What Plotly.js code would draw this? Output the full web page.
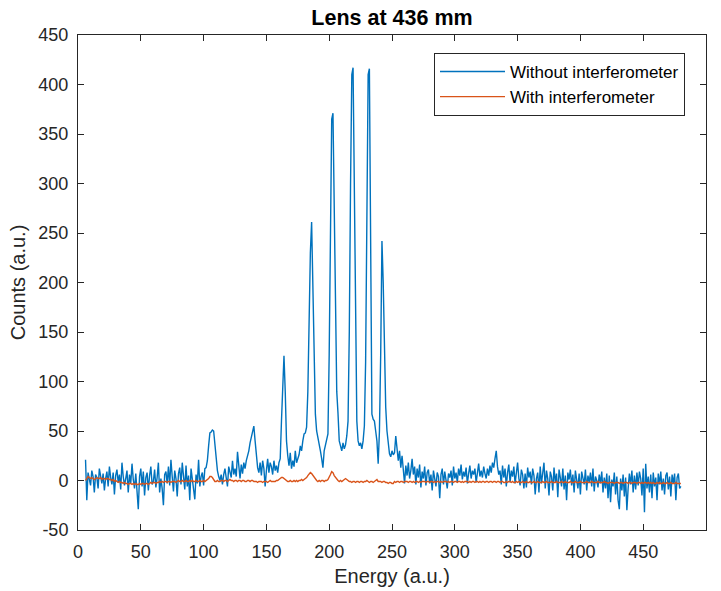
<!DOCTYPE html>
<html>
<head>
<meta charset="utf-8">
<script src="https://cdn.plot.ly/plotly-3.0.1.min.js"></script>
<style>html,body{margin:0;padding:0;background:#fff;}#chart{width:721px;height:591px;}</style>
</head>
<body>
<div id="chart"></div>
<script>
// Energy channels start at 6 (one value per channel)
const energyStart = 6;

// Counts without interferometer (blue)
const withoutInterferometer = [
  21, -20, 8, 2, -5, 10, 4, -12, 6, 3,
  -8, 12, 5, -3, 7, -10, 2, 9, -6, 14,
  3, -4, 8, -14, 5, 11, -2, 6, -9, 18,
  4, -5, 2, 10, -12, 6, -3, 17, 1, -8,
  7, -18, -29, 4, 12, -6, 9, -15, 3, 8,
  -10, 5, 14, -4, -1, 11, -7, 3, 18, -12,
  2, -8, -25, 6, 9, -3, 14, -5, 21, 4,
  -11, 10, 2, -16, 7, 13, -4, 18, 1, -9,
  15, -6, 5, -20, 12, 3, -8, -19, 6, -3,
  21, -6, 4, 8, -5, 12, 13, 20, 35, 48,
  49, 51, 50, 38, 20, 10, 4, 0, 6, -4,
  6, 12, 3, -6, 14, 8, 3, 20, 6, 12,
  4, 29, 10, 2, 16, 7, 18, 12, 20, 24,
  30, 38, 45, 52, 55, 40, 22, 13, 8, 18,
  5, 20, 12, -6, 10, 22, 8, 18, 14, 6,
  20, 10, 15, 8, 18, 22, 60, 105, 126, 90,
  40, 25, 15, 28, 12, 20, 14, 30, 18, 22,
  26, 35, 30, 40, 47, 48, 54, 90, 170, 230,
  261, 200, 120, 67, 50, 44, 36, 30, 22, 13,
  30, 36, 42, 47, 128, 250, 365, 371, 280, 150,
  90, 68, 40, 35, 30, 38, 32, 36, 45, 60,
  150, 300, 410, 417, 300, 140, 60, 40, 35, 38,
  32, 40, 55, 120, 300, 410, 416, 200, 67, 62,
  60, 50, 40, 17, 50, 128, 242, 200, 128, 74,
  50, 35, 27, 24, 30, 26, 28, 45, 33, 20,
  30, 13, 25, 8, -3, 15, 5, 18, 2, 10,
  22, 6, 14, -4, 12, 3, 16, -7, 9, 2,
  14, -5, 8, 11, -3, 6, -10, 10, 2, -6,
  8, 4, -18, 6, 12, -4, 9, 0, -8, 7,
  3, 10, -5, 14, 2, 8, -2, 12, 5, 16,
  1, 9, 4, 13, -3, 7, 15, 2, 10, 6,
  12, -2, 8, 17, 4, 10, 3, 14, 7, 2,
  12, 5, 15, 8, 18, 13, 22, 30, 14, 6,
  10, -4, 15, 3, 12, -6, 8, 16, -2, 10,
  4, 14, -3, 9, 18, 2, -5, 11, 6, -8,
  7, -7, 13, 3, 9, -4, 12, 5, -14, 2,
  8, -12, 14, -3, 6, 18, -8, 10, 2, -15,
  9, 4, -10, 13, -2, 7, -17, 11, 3, -6,
  12, -9, 5, -20, 8, 1, 11, -5, 6, -12,
  10, 3, -8, 7, -14, 9, 2, -4, 11, -10,
  5, -2, 8, -6, 12, -11, 4, 0, -7, 6,
  -3, 9, -12, 3, -8, 7, -18, 5, -22, 1,
  -6, 8, -14, 4, -20, -29, 2, -10, 6, -16,
  3, -30, -8, 7, -4, 10, -12, 5, -9, 8,
  -5, 9, 2, -15, 12, -32, 17, -8, 4, -12,
  6, -18, 8, -6, 3, -20, 7, -4, 9, -10,
  2, -14, 5, 8, -9, 4, -16, 6, -3, 7,
  -20, 3, 7, -8, -6
];

// Counts with interferometer (orange)
const withInterferometer = [
  0, 2, 4, 3, 2, 3, 2, 1, 2, 3,
  2, 2, 3, 1, 2, 2, 1, 2, 2, 1,
  1, 0, 1, -1, 0, -1, -2, -1, -2, -2,
  -3, -2, -3, -3, -4, -3, -3, -4, -3, -4,
  -3, -4, -4, -3, -4, -3, -3, -4, -3, -3,
  -4, -3, -2, -3, -2, -2, -3, -2, -2, -1,
  -2, -1, -2, -1, -1, -2, -1, -1, -2, -1,
  -1, -1, -2, -1, 0, -1, -1, 0, -1, -1,
  0, -1, -1, 0, -1, 0, -1, -1, 0, -1,
  -1, 0, -1, -1, 0, -1, 0, 1, 2, 4,
  4, 3, 1, -1, -1, 0, -1, -1, 0, 0,
  -1, 0, 0, -1, 0, 1, 0, 0, -1, 0,
  0, -1, 0, 0, -1, 0, 0, -1, -1, 0,
  0, -1, 0, 0, -1, -1, -1, -2, -1, -1,
  -1, -2, -1, -1, -1, -2, -1, 0, -1, -1,
  -1, -1, 0, 0, 1, 2, 3, 3, 2, 1,
  0, -1, -1, 0, -1, -1, 0, -1, 0, -1,
  0, 0, 1, 0, 1, 2, 3, 5, 7, 8,
  7, 5, 3, 1, 0, -1, 0, -1, 0, 0,
  -1, 0, 0, 1, 3, 6, 9, 8, 5, 3,
  1, 0, -1, 0, -1, 0, 1, 2, 1, 0,
  -1, -1, -2, -1, -1, -2, -1, -1, -2, -1,
  -1, -2, -1, -1, 0, -1, -2, -1, -1, -2,
  -1, 0, 1, -1, -1, -1, -2, -1, -1, -2,
  -2, -3, -2, -2, -3, -3, -1, -2, -1, -1,
  -2, -1, -1, -2, -1, -1, -1, -2, -1, -1,
  -2, -1, -2, -1, -1, -2, -1, -2, -1, -1,
  -1, -2, -1, -1, -2, -1, -1, -2, -1, -2,
  -1, -1, -2, -1, -2, -1, -1, -1, -2, -1,
  -2, -1, -1, -2, -1, -1, -2, -1, -1, -2,
  -1, -2, -1, -1, -1, -2, -1, -2, -1, -1,
  -2, -1, -1, -2, -1, -2, -1, -1, -2, -1,
  -1, -2, -1, -1, -2, -1, -1, -2, -1, -1,
  -2, -1, -1, -2, -2, -1, -2, -1, -1, -2,
  -1, -2, -2, -1, -2, -1, -2, -2, -1, -2,
  -2, -1, -2, -2, -1, -2, -2, -1, -2, -2,
  -1, -2, -2, -2, -1, -2, -2, -1, -2, -2,
  -2, -1, -2, -2, -2, -1, -2, -2, -2, -1,
  -2, -2, -1, -2, -2, -2, -1, -2, -2, -2,
  -1, -2, -2, -2, -1, -2, -2, -2, -2, -1,
  -2, -2, -2, -1, -2, -2, -2, -2, -1, -2,
  -2, -2, -2, -1, -2, -2, -3, -2, -2, -2,
  -2, -3, -2, -2, -2, -3, -2, -2, -3, -2,
  -2, -2, -3, -2, -2, -3, -2, -2, -2, -3,
  -2, -2, -3, -2, -3, -2, -2, -3, -2, -3,
  -2, -3, -2, -3, -3, -2, -3, -2, -3, -3,
  -2, -3, -3, -2, -3, -3, -2, -3, -3, -3,
  -2, -3, -3, -3, -3
];

const xTicks = [0, 50, 100, 150, 200, 250, 300, 350, 400, 450, 500];
const yTicks = [-50, 0, 50, 100, 150, 200, 250, 300, 350, 400, 450];
const seriesNames = ['Without interferometer', 'With interferometer'];
const seriesColors = ['#0072BD', '#D95319'];

const energy = withoutInterferometer.map((_, i) => energyStart + i);

const traces = [
  {x: energy, y: withoutInterferometer, type: 'scatter', mode: 'lines', name: seriesNames[0],
   line: {color: seriesColors[0], width: 1.4}},
  {x: energy, y: withInterferometer, type: 'scatter', mode: 'lines', name: seriesNames[1],
   line: {color: seriesColors[1], width: 1.4}}
];

const axisCommon = {
  showline: true, linecolor: '#262626', linewidth: 1, mirror: 'ticks',
  ticks: 'inside', ticklen: 6, tickwidth: 1, tickcolor: '#262626',
  showgrid: false, zeroline: false, tickfont: {size: 18, color: '#262626'}
};

const layout = {
  width: 721, height: 591,
  margin: {l: 78, r: 15, t: 35, b: 61},
  paper_bgcolor: '#ffffff', plot_bgcolor: '#ffffff',
  font: {family: '"Liberation Sans", Arial, Helvetica, sans-serif', color: '#262626', size: 17},
  title: {text: '<b>Lens at 436 mm</b>', font: {size: 21.5, color: '#000000'},
          x: 0.5, xref: 'paper', xanchor: 'center', y: 1 - 17/591, yref: 'container', yanchor: 'middle'},
  xaxis: Object.assign({}, axisCommon, {
    range: [0, 500], tickmode: 'array', tickvals: xTicks, ticktext: xTicks.map(String),
    ticklabelstandoff: 5,
    title: {text: 'Energy (a.u.)', font: {size: 20, color: '#262626'}, standoff: 8}
  }),
  yaxis: Object.assign({}, axisCommon, {
    range: [-50, 450], tickmode: 'array', tickvals: yTicks, ticktext: yTicks.map(String),
    ticklabelstandoff: 5,
    title: {text: 'Counts (a.u.)', font: {size: 20, color: '#262626'}, standoff: 7}
  }),
  showlegend: true,
  legend: {x: (685 - 78) / 628, xanchor: 'right', y: (530 - 53) / 495, yanchor: 'top',
           bgcolor: '#ffffff', bordercolor: '#262626', borderwidth: 1,
           font: {size: 17, color: '#000000'}, itemwidth: 65, tracegroupgap: 0}
};

Plotly.newPlot('chart', traces, layout, {displayModeBar: false, staticPlot: true});
</script>
</body>
</html>
